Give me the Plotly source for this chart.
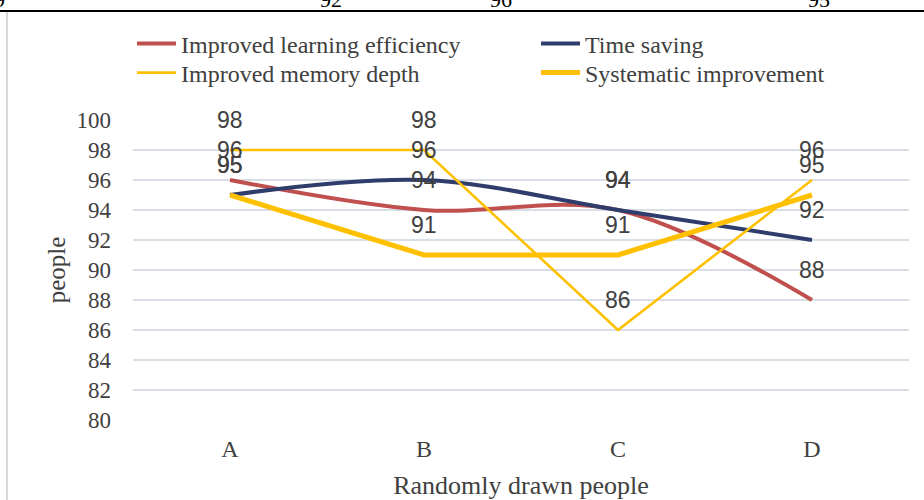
import plotly.graph_objects as go

categories = ["A", "B", "C", "D"]
learning_efficiency = [96, 94, 94, 88]
time_saving = [95, 96, 94, 92]
memory_depth = [98, 98, 86, 96]
systematic = [95, 91, 91, 95]
y_ticks = [80, 82, 84, 86, 88, 90, 92, 94, 96, 98, 100]

series = [
    ("Improved learning efficiency", learning_efficiency, "#C0504D", 4, "spline", "legend"),
    ("Time saving", time_saving, "#2E3D6B", 4, "spline", "legend"),
    ("Improved memory depth", memory_depth, "#FFC000", 2.6, "linear", "legend2"),
    ("Systematic improvement", systematic, "#FFC000", 5, "linear", "legend2"),
]

fig = go.Figure()
for name, vals, color, w, shape, lg in series:
    fig.add_trace(go.Scatter(
        x=categories, y=vals, name=name, mode="lines", legend=lg,
        line=dict(color=color, width=w, shape=shape, smoothing=1.0),
        cliponaxis=False,
    ))
    for c, v in zip(categories, vals):
        fig.add_annotation(x=c, y=v, text=str(v), showarrow=False, yshift=30,
                           font=dict(family="Liberation Sans, Arial", size=23, color="#404040"))

serif = "Liberation Serif, Times New Roman"
W, L, T, H = 776, 133, 120, 300
leg_common = dict(orientation="h", xref="paper", yref="paper",
                  x=(132 - L) / W, xanchor="left", yanchor="middle",
                  entrywidth=350, itemwidth=39, bgcolor="rgba(0,0,0,0)",
                  font=dict(family=serif, size=24, color="#404040"), traceorder="normal")
fig.update_layout(
    width=924, height=500,
    margin=dict(l=L, r=15, t=T, b=80, autoexpand=False),
    paper_bgcolor="white", plot_bgcolor="white",
    showlegend=True,
    legend=dict(leg_common, y=1 + (T - 44) / H),
    legend2=dict(leg_common, y=1 + (T - 73) / H),
    xaxis=dict(type="category", range=[-0.5, 3.5], showgrid=False, showline=False,
               zeroline=False, ticks="", ticklabelstandoff=12,
               tickfont=dict(family=serif, size=24, color="#404040"),
               title=dict(text="Randomly drawn people", standoff=14,
                          font=dict(family=serif, size=26, color="#404040"))),
    yaxis=dict(range=[80, 100], tickvals=y_ticks, showgrid=True, gridcolor="#D9DDE6",
               gridwidth=1.5, zeroline=False, showline=False, ticks="",
               ticklabelstandoff=21,
               tickfont=dict(family=serif, size=23, color="#404040"),
               title=dict(text="people", standoff=3,
                          font=dict(family=serif, size=25, color="#404040"))),
    font=dict(family=serif),
)

# page frame: top rule and left border of the document region
fig.add_shape(type="line", xref="paper", yref="paper", x0=-L / W, x1=(924 - L) / W,
              y0=1 + (T - 11) / H, y1=1 + (T - 11) / H, line=dict(color="black", width=2))
fig.add_shape(type="line", xref="paper", yref="paper", x0=(7 - L) / W, x1=(7 - L) / W,
              y0=-80 / H, y1=1 + (T - 12) / H, line=dict(color="#D9D9D9", width=2))

# cut-off numbers from the table above
for t, xp in [("9", -1), ("92", 331), ("96", 501), ("95", 819)]:
    fig.add_annotation(xref="paper", yref="paper", x=(xp - L) / W, y=1 + (T - 14) / H,
                       xanchor="center", yanchor="bottom", text=t, showarrow=False,
                       font=dict(family=serif, size=22, color="black"))

fig.write_html("out.html", config={"displayModeBar": False},
               post_script="document.body.style.margin='0';document.body.style.overflow='hidden';")
